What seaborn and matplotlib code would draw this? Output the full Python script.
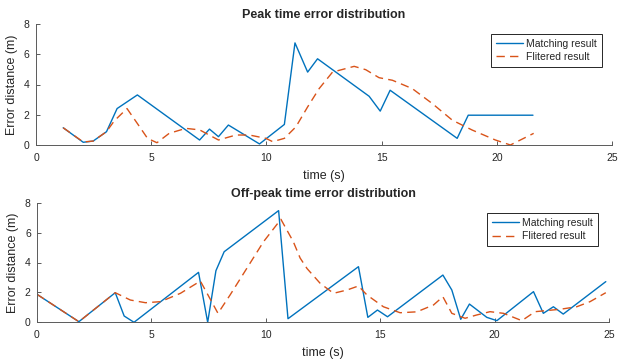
import matplotlib
matplotlib.use("Agg")
import matplotlib.pyplot as plt
import seaborn as sns
import pandas as pd

# Peak-hour error of the raw matching result and of the filtered result
peak_match_t = [1.18, 2.05, 2.48, 3.06, 3.52, 4.40, 7.10, 7.53, 7.92, 8.35, 9.70,
                10.78, 11.24, 11.79, 12.22, 14.46, 14.94, 15.37, 18.28, 18.76, 21.57]
peak_match_e = [1.14, 0.18, 0.26, 0.88, 2.41, 3.31, 0.33, 1.05, 0.55, 1.32, 0.07,
                1.36, 6.75, 4.82, 5.70, 3.22, 2.24, 3.62, 0.44, 1.97, 1.97]

peak_filt_t = [1.18, 2.05, 2.48, 3.06, 3.40, 3.95, 4.40, 4.84, 5.25, 5.78, 6.50,
               7.10, 7.92, 8.68, 9.26, 9.98, 10.27, 10.78, 11.28, 11.79, 12.29,
               12.87, 13.81, 14.31, 14.89, 15.47, 16.33, 17.20, 18.07, 18.93,
               19.94, 20.59, 21.60]
peak_filt_e = [1.14, 0.20, 0.26, 0.88, 1.60, 2.41, 1.42, 0.44, 0.15, 0.77, 1.10,
               1.00, 0.33, 0.66, 0.66, 0.44, 0.22, 0.44, 1.20, 2.52, 3.73,
               4.82, 5.20, 4.98, 4.45, 4.28, 3.73, 2.74, 1.64, 0.99,
               0.33, 0.00, 0.77]

# Off-peak error of the raw matching result and of the filtered result
off_match_t = [0.00, 1.83, 3.42, 3.81, 4.24, 7.06, 7.46, 7.82, 8.18, 10.56, 10.97,
               14.05, 14.46, 14.88, 15.32, 17.74, 18.13, 18.52, 18.90, 19.66,
               20.10, 21.70, 22.13, 22.57, 23.00, 24.86]
off_match_e = [1.87, 0.04, 1.98, 0.42, 0.00, 3.34, 0.00, 3.45, 4.72, 7.47, 0.24,
               3.72, 0.33, 0.82, 0.37, 3.16, 2.16, 0.20, 1.22, 0.33,
               0.11, 2.05, 0.60, 1.04, 0.55, 2.72]

off_filt_t = [0.00, 1.83, 3.42, 4.08, 4.74, 5.40, 6.27, 7.14, 7.91, 8.44, 9.17,
              9.90, 10.66, 11.20, 11.50, 11.80, 12.38, 12.96, 13.55, 14.05, 14.42,
              15.14, 15.87, 16.60, 17.33, 17.74, 18.13, 18.71, 19.22, 19.80,
              20.39, 21.19, 21.77, 22.86, 23.59, 24.17, 24.86]
off_filt_e = [1.87, 0.04, 1.98, 1.49, 1.31, 1.38, 1.94, 2.76, 0.60, 1.83, 3.61,
              5.39, 6.89, 5.40, 4.30, 3.60, 2.60, 1.94, 2.16, 2.43, 1.83,
              1.04, 0.64, 0.70, 1.16, 1.71, 0.60, 0.27, 0.49, 0.71,
              0.60, 0.11, 0.71, 0.87, 1.04, 1.38, 1.98]

titles = ["Peak time error distribution", "Off-peak time error distribution"]
series_names = ["Matching result", "Flitered result"]
x_ticks = [0, 5, 10, 15, 20, 25]
y_ticks = [0, 2, 4, 6, 8]

BLUE = "#0072BD"
ORANGE = "#D95319"
AXIS_GREY = "#5a5a5a"
TEXT = "#262626"
LW = 1.0

sns.set_theme(style="ticks")
plt.rcParams["font.family"] = ["Liberation Sans", "DejaVu Sans"]
plt.rcParams.update({
    "xtick.direction": "in",
    "ytick.direction": "in",
    "xtick.major.size": 3,
    "ytick.major.size": 3,
    "xtick.major.width": 0.7,
    "ytick.major.width": 0.7,
    "xtick.color": AXIS_GREY,
    "ytick.color": AXIS_GREY,
    "xtick.labelcolor": TEXT,
    "ytick.labelcolor": TEXT,
    "axes.edgecolor": AXIS_GREY,
    "axes.linewidth": 0.7,
    "text.color": TEXT,
    "axes.labelcolor": TEXT,
})

W, H = 619, 362
fig = plt.figure(figsize=(W / 100, H / 100), dpi=100)

# axes rectangles in pixel terms (left, top, right, bottom)
rects = [(36, 24, 612, 145), (37, 202.7, 609, 322.3)]
panels = [
    (peak_match_t, peak_match_e, peak_filt_t, peak_filt_e, (0.982, 0.915)),
    (off_match_t, off_match_e, off_filt_t, off_filt_e, (0.980, 0.911)),
]

for (l, t, r, b), (mt, me, ft, fe, anchor), title in zip(rects, panels, titles):
    ax = fig.add_axes([l / W, 1 - b / H, (r - l) / W, (b - t) / H])
    match_df = pd.DataFrame({"time": mt, "error": me})
    filt_df = pd.DataFrame({"time": ft, "error": fe})
    sns.lineplot(data=match_df, x="time", y="error", ax=ax, sort=False,
                 color=BLUE, linewidth=LW, label=series_names[0])
    sns.lineplot(data=filt_df, x="time", y="error", ax=ax, sort=False,
                 color=ORANGE, linewidth=LW, label=series_names[1])
    ax.lines[1].set_dashes((6.0, 3.75))

    ax.set_xlim(0, 25)
    ax.set_ylim(0, 8)
    ax.set_xticks(x_ticks)
    ax.set_yticks(y_ticks)
    ax.tick_params(axis="x", labelsize=7.5, pad=5.5)
    ax.tick_params(axis="y", labelsize=7.5, pad=4.5)
    sns.despine(ax=ax)

    ax.set_title(title, fontsize=9, fontweight="bold", pad=4)
    ax.set_xlabel("time (s)", fontsize=9, labelpad=5)
    ax.set_ylabel("Error distance (m)", fontsize=9, labelpad=4)

    leg = ax.legend(loc="upper right", bbox_to_anchor=anchor, borderaxespad=0,
                    fontsize=7.5, frameon=True, fancybox=False, handlelength=2.6,
                    handletextpad=0.3, borderpad=0.45, labelspacing=0.3)
    frame = leg.get_frame()
    frame.set_edgecolor("#262626")
    frame.set_linewidth(0.7)
    frame.set_alpha(1)

fig.savefig("out.png", dpi=100)
